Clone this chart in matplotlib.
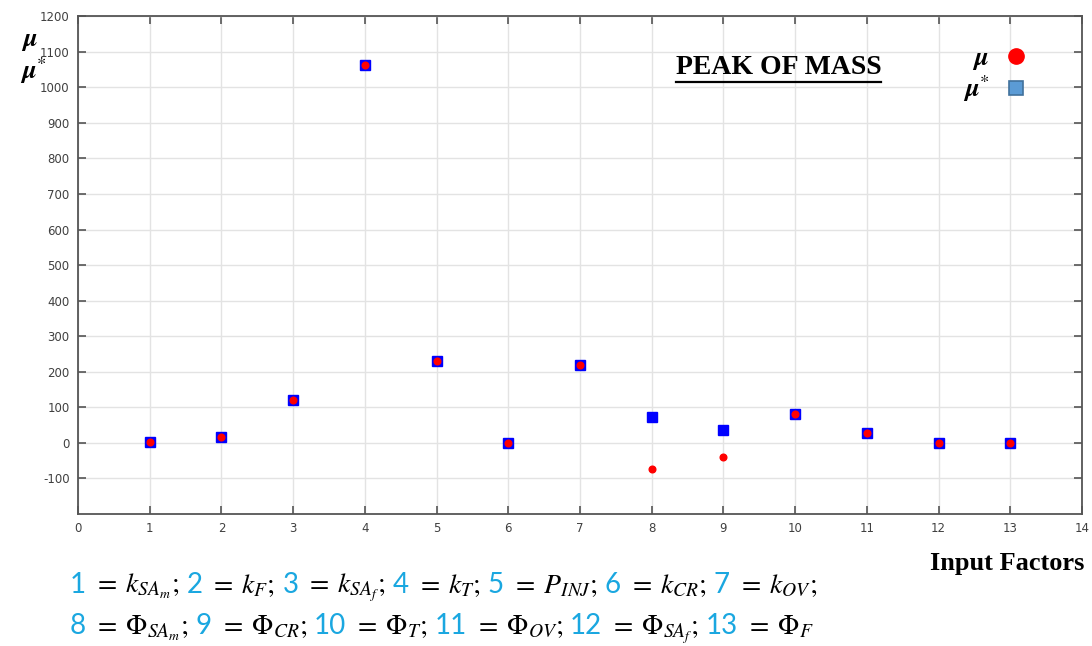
import matplotlib
matplotlib.use("Agg")
import matplotlib.pyplot as plt
from matplotlib.lines import Line2D
from matplotlib.offsetbox import TextArea, HPacker, VPacker, AnchoredOffsetbox

# data
factors = [1, 2, 3, 4, 5, 6, 7, 8, 9, 10, 11, 12, 13]
mu_star = [3, 17, 120, 1063, 230, 0, 220, 74, 37, 80, 29, 0, 0]
mu = [3, 17, 120, 1063, 230, 0, 220, -74, -41, 80, 29, 0, 0]

line1_nums = ["1", "2", "3", "4", "5", "6", "7"]
line1_defs = [r"$=\;k_{SA_m};$", r"$=\;k_F;$", r"$=\;k_{SA_f};$", r"$=\;k_T;$",
              r"$=\;P_{INJ};$", r"$=\;k_{CR};$", r"$=\;k_{OV};$"]
line2_nums = ["8", "9", "10", "11", "12", "13"]
line2_defs = [r"$=\;\Phi_{SA_m};$", r"$=\;\Phi_{CR};$", r"$=\;\Phi_T;$",
              r"$=\;\Phi_{OV};$", r"$=\;\Phi_{SA_f};$", r"$=\;\Phi_F$"]

plt.rcParams["mathtext.fontset"] = "stix"
plt.rcParams["axes.unicode_minus"] = False

fig = plt.figure(figsize=(10.92, 6.46), dpi=100)
ax = fig.add_axes([0.0714, 0.2043, 0.9194, 0.7707])

ax.plot(factors, mu_star, ls="none", marker="s", ms=7.2, color="#0000ff", zorder=3)
ax.plot(factors, mu, ls="none", marker="o", ms=4.8, color="#ff0000", mec="#ff0000", zorder=4)

ax.set_xlim(0, 14)
ax.set_ylim(-200, 1200)
ax.set_xticks(range(0, 15))
ax.set_yticks(range(-100, 1201, 100))
ax.grid(color="#e3e3e3", lw=1)
ax.set_axisbelow(True)
ax.tick_params(direction="in", length=6, width=1.2, color="#555555",
               labelsize=8.5, labelcolor="#404040", top=True, right=True, pad=6)
for s in ax.spines.values():
    s.set_color("#555555")
    s.set_linewidth(1.3)

# y label at top left
fig.text(0.027, 0.938, r"$\mathbfit{\mu}$", fontsize=19, ha="center", va="center")
fig.text(0.030, 0.891, r"$\mathbfit{\mu}^{*}$", fontsize=19, ha="center", va="center")

# custom legend
handles = [Line2D([], [], ls="none", marker="o", ms=11, color="#ff0000"),
           Line2D([], [], ls="none", marker="s", ms=10, mfc="#5b9bd5", mec="#41719c", mew=1.2)]
leg = ax.legend(handles, [r"$\mathbfit{\mu}$", r"$\mathbfit{\mu}^{*}$"], markerfirst=False,
                frameon=False, loc="upper right", bbox_to_anchor=(0.968, 0.99),
                handlelength=0.8, handletextpad=0.6, labelspacing=0.05, prop=dict(size=19))

title = fig.text(0.713, 0.895, "PEAK OF MASS", fontsize=20, family="Liberation Serif",
                 weight="bold", ha="center", va="center")
fig.canvas.draw()
bb = title.get_window_extent().transformed(fig.transFigure.inverted())
fig.add_artist(Line2D([bb.x0, bb.x1], [bb.y0 - 0.002, bb.y0 - 0.002],
                      transform=fig.transFigure, color="black", lw=1.6))

fig.text(0.993, 0.128, "Input Factors", fontsize=19, family="Liberation Serif",
         weight="bold", ha="right", va="center")

# factor definitions below the chart
num_props = dict(color="#1aa7e0", fontsize=20, family="Lato")
def_props = dict(color="black", fontsize=20)

def make_row(nums, defs):
    kids = []
    for n, d in zip(nums, defs):
        kids.append(TextArea(n, textprops=num_props))
        kids.append(TextArea(d, textprops=def_props))
    return HPacker(children=kids, align="baseline", pad=0, sep=5)

rows = VPacker(children=[make_row(line1_nums, line1_defs), make_row(line2_nums, line2_defs)],
               align="left", pad=0, sep=6)
box = AnchoredOffsetbox(loc="upper left", child=rows, frameon=False, pad=0, borderpad=0,
                        bbox_to_anchor=(70 / 1092, 1 - 571 / 646),
                        bbox_transform=fig.transFigure)
fig.add_artist(box)

fig.savefig("out.png", dpi=100)
